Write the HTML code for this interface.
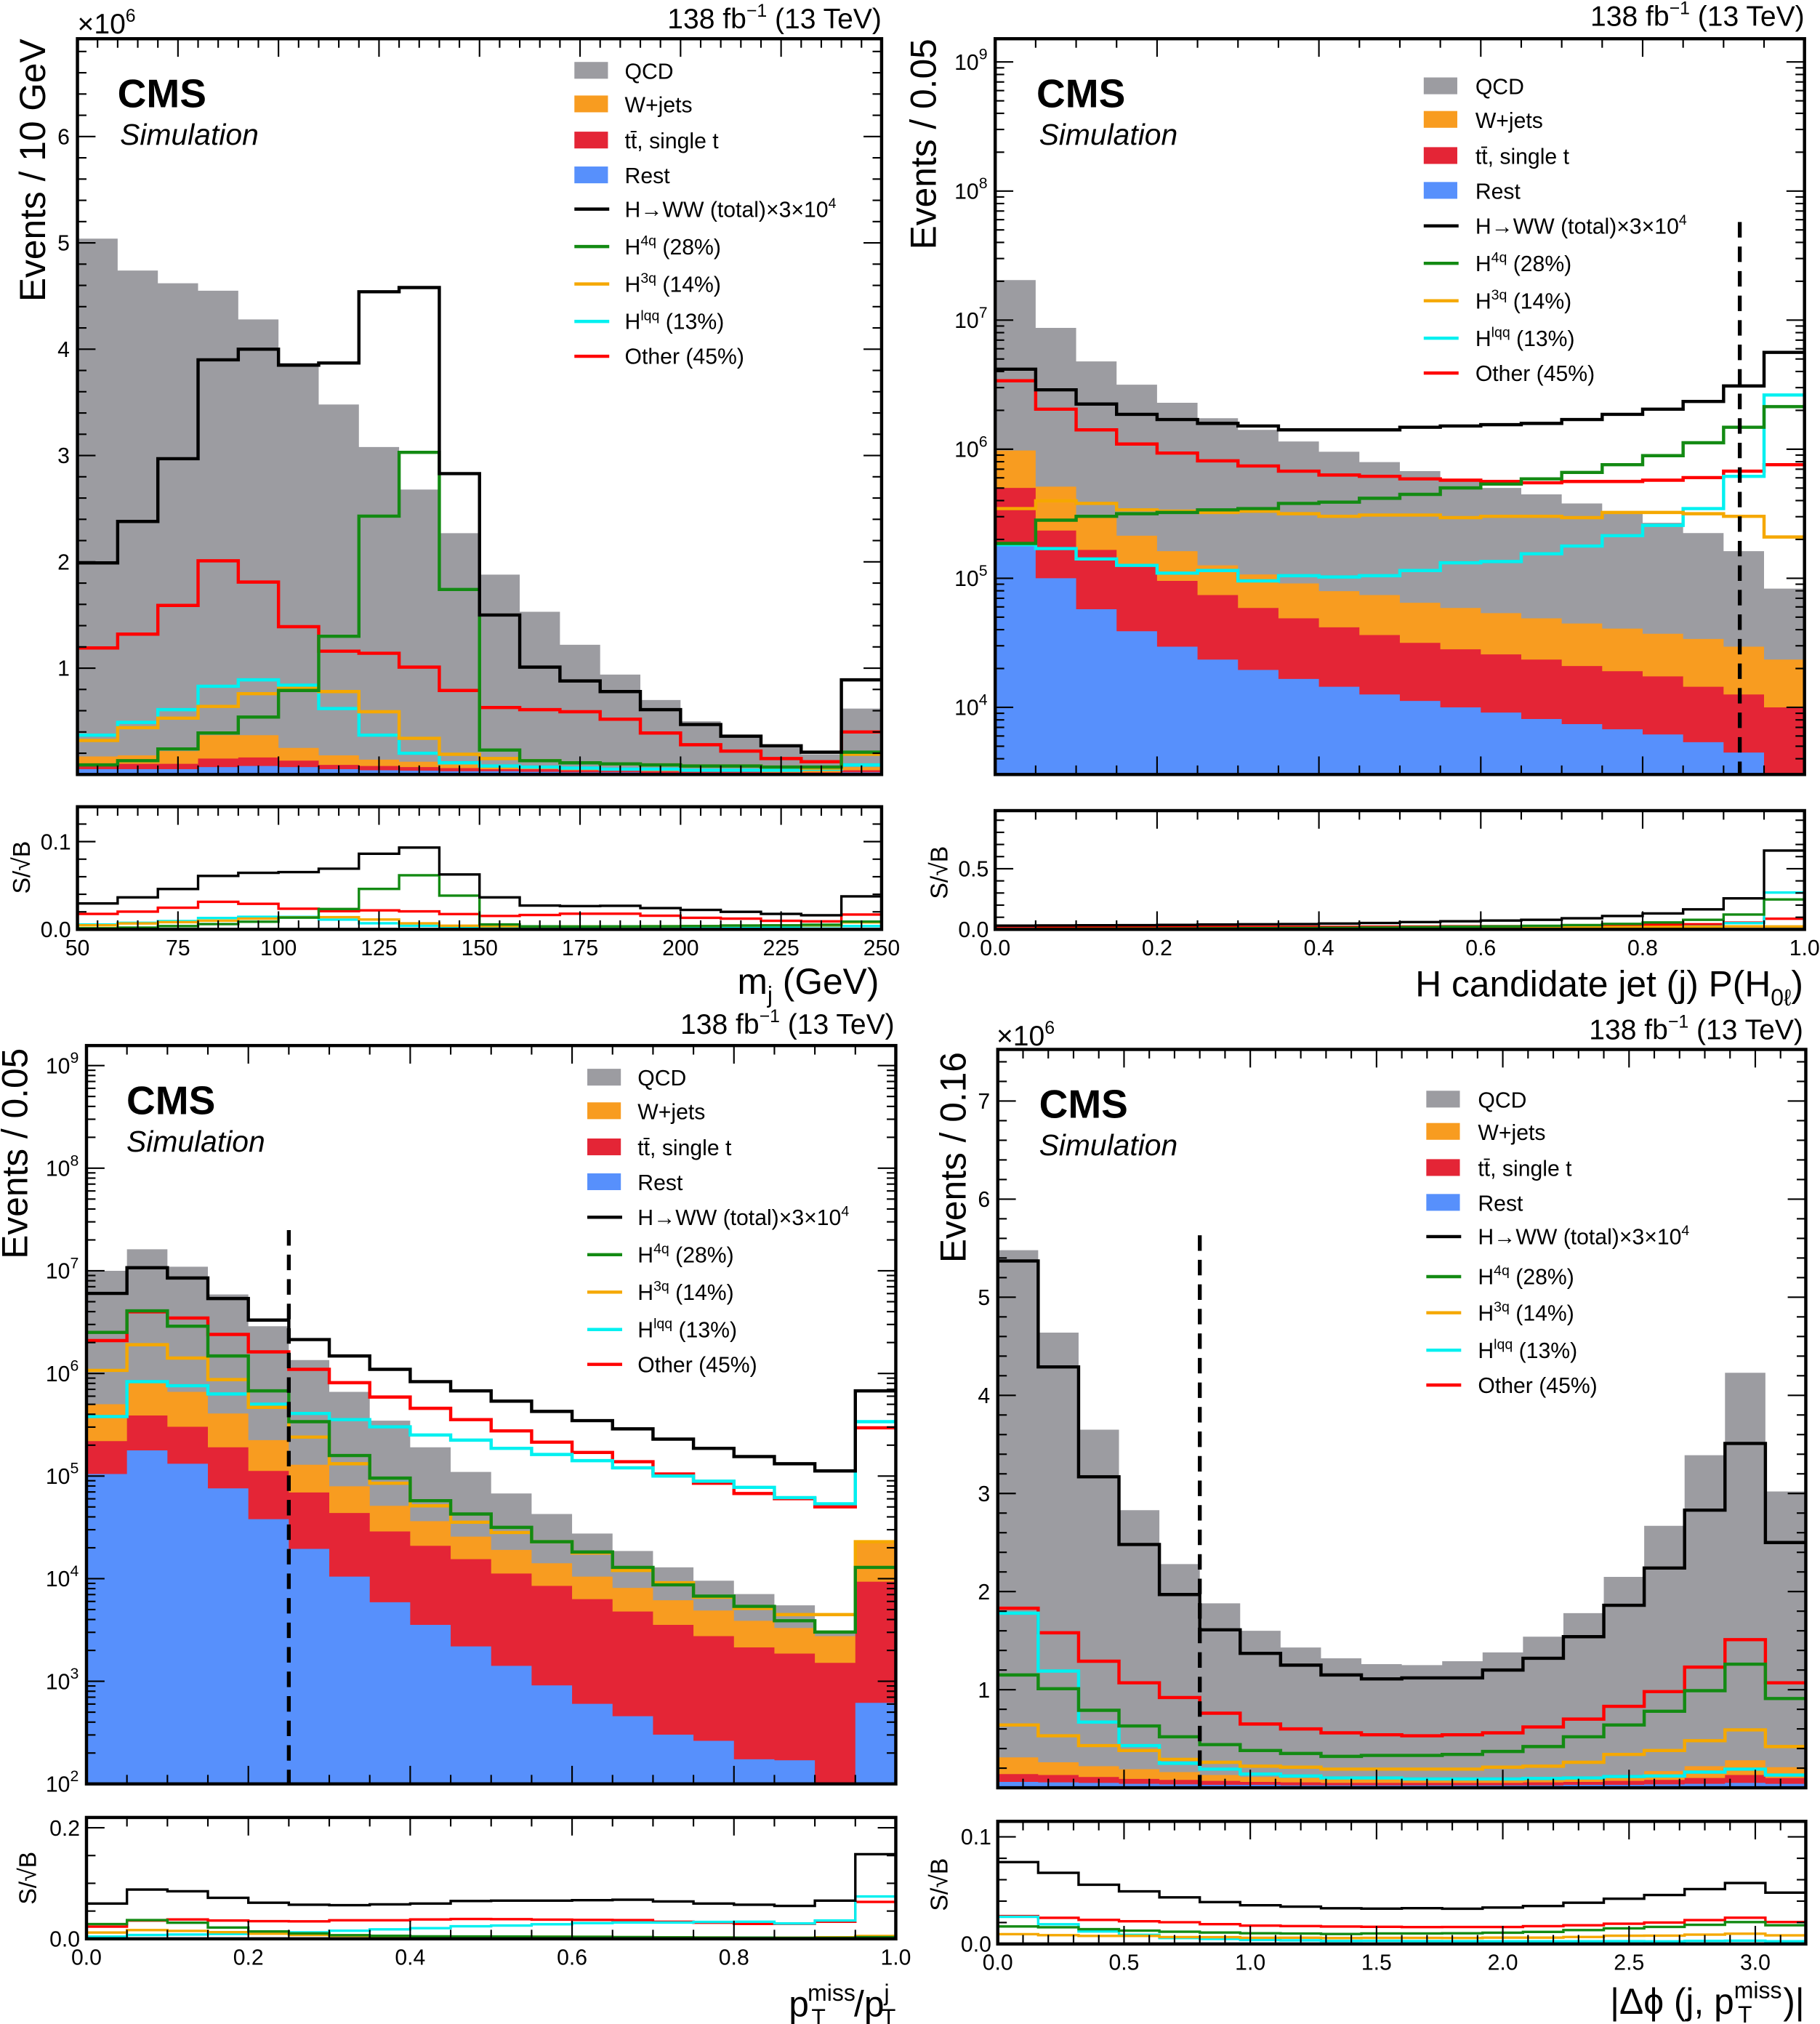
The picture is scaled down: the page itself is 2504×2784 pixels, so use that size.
<!DOCTYPE html>
<html><head><meta charset="utf-8"><style>
html,body{margin:0;padding:0;background:#fff;}
svg{display:block;font-family:"Liberation Sans",Arial,sans-serif;}
</style></head><body>
<svg id="chart" width="2504" height="2784" viewBox="0 0 1410 1568" preserveAspectRatio="none" xmlns="http://www.w3.org/2000/svg"></svg>
<script>
// ===== Panel 1: m_j (linear, units of 1e6) =====
const p1Edges = [50, 250];
const p1Total = [5.04,4.74,4.62,4.55,4.28,3.87,3.48,3.08,2.68,2.27,1.88,1.53,1.22,0.94,0.70,0.50,0.36,0.26,0.19,0.62];
const p1WjCum = [0.17,0.18,0.22,0.37,0.37,0.25,0.18,0.14,0.12,0.1,0.09,0.08,0.07,0.06,0.05,0.05,0.04,0.04,0.04,0.07];
const p1TtCum = [0.10,0.10,0.10,0.15,0.16,0.13,0.09,0.08,0.07,0.06,0.05,0.05,0.04,0.04,0.03,0.03,0.03,0.02,0.02,0.04];
const p1Rest = [0.05,0.05,0.05,0.07,0.08,0.07,0.05,0.04,0.035,0.03,0.03,0.025,0.02,0.02,0.015,0.015,0.01,0.01,0.01,0.02];
const p1HWW = [1.99,2.38,2.97,3.9,4.0,3.85,3.87,4.54,4.58,2.83,1.5,1.01,0.88,0.78,0.61,0.47,0.36,0.27,0.21,0.89];
const p1H4q = [0.09,0.13,0.24,0.39,0.54,0.79,1.30,2.43,3.03,1.74,0.23,0.13,0.11,0.10,0.09,0.08,0.08,0.07,0.07,0.21];
const p1H3q = [0.32,0.44,0.53,0.64,0.76,0.81,0.78,0.59,0.34,0.19,0.15,0.13,0.11,0.10,0.09,0.08,0.08,0.07,0.06,0.19];
const p1Hlqq = [0.37,0.49,0.61,0.83,0.89,0.84,0.62,0.37,0.20,0.11,0.08,0.07,0.06,0.05,0.05,0.04,0.04,0.04,0.05,0.09];
const p1Other = [1.19,1.32,1.59,2.01,1.81,1.39,1.16,1.14,1.01,0.79,0.63,0.61,0.59,0.52,0.39,0.28,0.22,0.15,0.12,0.40];
const p1XTicks = [50,75,100,125,150,175,200,225,250];
const p1YTicks = [1,2,3,4,5,6];
const p1RTicks = [0.0,0.1];

// ===== Panel 2: P(H0l) (log10 of events) =====
const p2Edges = [0, 1];
const p2Total = [7.31,6.94,6.68,6.50,6.36,6.24,6.15,6.06,5.98,5.90,5.83,5.75,5.70,5.65,5.58,5.50,5.43,5.35,5.21,4.92];
const p2WjCum = [5.99,5.71,5.47,5.33,5.21,5.10,5.03,4.96,4.90,4.87,4.81,4.77,4.73,4.69,4.65,4.61,4.57,4.53,4.47,4.37];
const p2TtCum = [5.70,5.37,5.22,5.10,4.98,4.87,4.77,4.69,4.62,4.56,4.50,4.45,4.41,4.37,4.32,4.28,4.24,4.16,4.10,4.00];
const p2Rest = [5.26,5.00,4.76,4.59,4.47,4.37,4.29,4.22,4.16,4.10,4.05,4.00,3.96,3.91,3.87,3.83,3.79,3.73,3.65,3.0];
const p2HWW = [6.62,6.46,6.35,6.27,6.23,6.20,6.18,6.15,6.15,6.15,6.17,6.18,6.19,6.20,6.23,6.27,6.31,6.37,6.49,6.75];
const p2H4q = [5.27,5.45,5.48,5.50,5.51,5.53,5.54,5.58,5.59,5.62,5.65,5.70,5.73,5.77,5.82,5.88,5.95,6.05,6.17,6.33];
const p2H3q = [5.54,5.60,5.58,5.53,5.52,5.51,5.52,5.50,5.48,5.49,5.49,5.47,5.48,5.48,5.47,5.51,5.51,5.50,5.48,5.32];
const p2Hlqq = [5.26,5.23,5.15,5.10,5.04,5.06,4.98,5.02,5.01,5.02,5.06,5.12,5.13,5.19,5.25,5.33,5.41,5.54,5.79,6.42];
const p2Other = [6.53,6.31,6.15,6.04,5.97,5.91,5.87,5.83,5.80,5.79,5.77,5.76,5.75,5.74,5.75,5.75,5.76,5.78,5.83,5.88];
const p2XTicks = [0,0.2,0.4,0.6,0.8,1.0];
const p2YTicks = [4,5,6,7,8,9];
const p2RTicks = [0.0,0.5];
const p2Cut = [0.92];

// ===== Panel 3: pTmiss/pTj (log10) =====
const p3Edges = [0, 1];
const p3Total = [7.00,7.21,7.04,6.77,6.46,6.13,5.82,5.54,5.28,5.04,4.83,4.63,4.44,4.27,4.11,3.98,3.85,3.74,3.47,4.34];
const p3WjCum = [5.70,5.93,5.82,5.61,5.35,5.11,4.90,4.71,4.56,4.41,4.28,4.15,4.02,3.91,3.79,3.69,3.59,3.52,3.44,4.36];
const p3TtCum = [5.34,5.59,5.48,5.28,5.05,4.84,4.64,4.46,4.32,4.19,4.05,3.93,3.80,3.68,3.55,3.44,3.33,3.27,3.18,3.97];
const p3Rest = [5.02,5.25,5.12,4.88,4.58,4.29,4.02,3.77,3.55,3.34,3.15,2.96,2.78,2.66,2.48,2.42,2.24,2.23,1.5,2.79];
const p3HWW = [6.78,7.03,6.93,6.73,6.52,6.33,6.17,6.04,5.92,5.83,5.73,5.63,5.54,5.46,5.36,5.27,5.19,5.12,5.05,5.83];
const p3H4q = [6.40,6.61,6.46,6.17,5.83,5.53,5.20,4.98,4.76,4.63,4.50,4.36,4.26,4.11,3.94,3.83,3.73,3.59,3.48,4.11];
const p3H3q = [6.03,6.28,6.15,5.94,5.67,5.38,5.12,4.93,4.71,4.55,4.45,4.36,4.25,4.08,3.96,3.82,3.71,3.65,3.65,4.36];
const p3Hlqq = [5.58,5.92,5.88,5.80,5.70,5.61,5.55,5.48,5.40,5.35,5.27,5.21,5.15,5.08,5.00,4.95,4.89,4.79,4.73,5.53];
const p3Other = [6.32,6.60,6.54,6.38,6.21,6.04,5.91,5.77,5.66,5.55,5.44,5.33,5.23,5.14,5.02,4.93,4.83,4.78,4.70,5.47];
const p3XTicks = [0,0.2,0.4,0.6,0.8,1.0];
const p3YTicks = [2,3,4,5,6,7,8,9];
const p3RTicks = [0.0,0.2];
const p3Cut = [0.25];

// ===== Panel 4: |dphi| (linear, 1e6) =====
const p4Edges = [0, 3.2];
const p4Total = [5.48,4.64,3.65,2.83,2.28,1.88,1.60,1.43,1.32,1.26,1.25,1.29,1.38,1.54,1.78,2.15,2.67,3.39,4.23,3.02];
const p4WjCum = [0.31,0.26,0.22,0.19,0.16,0.13,0.11,0.10,0.09,0.09,0.09,0.09,0.10,0.10,0.11,0.13,0.17,0.22,0.28,0.21];
const p4TtCum = [0.14,0.13,0.11,0.09,0.08,0.07,0.06,0.055,0.05,0.05,0.05,0.05,0.05,0.055,0.06,0.07,0.08,0.10,0.13,0.10];
const p4Rest = [0.06,0.055,0.05,0.04,0.035,0.03,0.03,0.025,0.025,0.025,0.025,0.025,0.025,0.025,0.03,0.03,0.035,0.04,0.05,0.04];
const p4HWW = [5.37,4.29,3.17,2.48,1.97,1.61,1.37,1.25,1.15,1.11,1.12,1.12,1.20,1.32,1.54,1.86,2.24,2.83,3.51,2.50];
const p4H4q = [1.15,1.01,0.79,0.63,0.52,0.44,0.38,0.35,0.32,0.33,0.33,0.34,0.37,0.42,0.52,0.64,0.78,0.99,1.26,0.91];
const p4H3q = [0.64,0.53,0.43,0.38,0.29,0.26,0.22,0.21,0.19,0.19,0.19,0.19,0.21,0.22,0.26,0.34,0.38,0.48,0.59,0.42];
const p4Hlqq = [1.78,1.19,0.67,0.43,0.25,0.19,0.14,0.12,0.10,0.10,0.09,0.09,0.09,0.095,0.10,0.115,0.12,0.16,0.19,0.13];
const p4Other = [1.83,1.58,1.29,1.07,0.92,0.76,0.65,0.60,0.56,0.54,0.53,0.54,0.56,0.62,0.70,0.83,0.98,1.23,1.51,1.07];
const p4XTicks = [0,0.5,1.0,1.5,2.0,2.5,3.0];
const p4YTicks = [1,2,3,4,5,6,7];
const p4RTicks = [0.0,0.1];
const p4Cut = [0.8];

const signalScale = 3e4;
const C = {qcd:'#9c9ca1', wj:'#f89c20', tt:'#e42536', rest:'#5790fc', hww:'#000', h4q:'#138a13', h3q:'#f5a800', hlqq:'#00f0f0', other:'#ff0000'};

const NS='http://www.w3.org/2000/svg';
const svg=document.getElementById('chart');
function mk(tag, attrs, parent){const e=document.createElementNS(NS,tag);for(const k in attrs)e.setAttribute(k,attrs[k]);(parent||svg).appendChild(e);return e;}
let clipId=0;

function panel(c){
  const g=mk('g',{});
  
  
  const nb=c.total.length, xmin=c.edges[0], xmax=c.edges[1], bw=(xmax-xmin)/nb;
  const lin = c.log ? (v=>Math.pow(10,v)) : (v=>v*1e6);
  const X=v=>c.x0+(v-xmin)/(xmax-xmin)*(c.x1-c.x0);
  const Y=c.log ? (l=>Math.min(c.y1+3, c.y1-(l-c.ymin)/(c.ymax-c.ymin)*(c.y1-c.y0)))
                : (v=>Math.max(c.y0, c.y1-(v-c.ymin)/(c.ymax-c.ymin)*(c.y1-c.y0)));
  const RY=v=>Math.max(c.ry0, c.ry1-(v/c.rmax)*(c.ry1-c.ry0));
  const cid='clip'+(clipId++);
  const cp=mk('clipPath',{id:cid},g); mk('rect',{x:c.x0,y:c.y0,width:c.x1-c.x0,height:c.y1-c.y0},cp);
  const rid='clip'+(clipId++);
  const rp=mk('clipPath',{id:rid},g); mk('rect',{x:c.x0,y:c.ry0,width:c.x1-c.x0,height:c.ry1-c.ry0},rp);
  const plot=mk('g',{'clip-path':`url(#${cid})`},g);
  const stacks=[[c.total,C.qcd,'qcd-stack'],[c.wj,C.wj,'wjets-stack'],[c.tt,C.tt,'ttbar-stack'],[c.rest,C.rest,'rest-stack']];
  stacks.forEach(s=>{
    let d=`M${X(xmin)},${c.y1+3}`;
    s[0].forEach((v,i)=>{d+=`V${Y(v)}H${X(xmin+(i+1)*bw)}`;});
    d+=`V${c.y1+3}Z`;
    const p=mk('path',{d:d,fill:s[1],stroke:'none'},plot);
    
    
  });
  const lines=[[c.other,C.other,'other-line'],[c.hlqq,C.hlqq,'hlqq-line'],[c.h3q,C.h3q,'h3q-line'],[c.h4q,C.h4q,'h4q-line'],[c.hww,C.hww,'hww-total-line']];
  function stepPath(vals,fy){let d='';vals.forEach((v,i)=>{const y=fy(v);d+=(i==0?`M${X(xmin)},${y}`:`V${y}`)+`H${X(xmin+(i+1)*bw)}`;});return d;}
  lines.forEach(s=>{
    const p=mk('path',{d:stepPath(s[0],Y),fill:'none',stroke:s[1],'stroke-width':2.5},plot);
    
    
  });
  if(c.cut){c.cut.forEach(v=>{
    const l=mk('line',{x1:X(v),x2:X(v),y1:c.cutTop,y2:c.y1,stroke:'#000','stroke-width':3,'stroke-dasharray':'12,7'},g);
    
    
  });}
  const rplot=mk('g',{'clip-path':`url(#${rid})`},g);
  const B=c.total.map(lin);
  lines.forEach(s=>{
    const r=s[0].map((v,i)=>(lin(v)/signalScale)/Math.sqrt(B[i]));
    const p=mk('path',{d:stepPath(r,RY),fill:'none',stroke:s[1],'stroke-width':1.9},rplot);
    
    
  });
  [[c.y0,c.y1],[c.ry0,c.ry1]].forEach((f,k)=>{
    const r=mk('rect',{x:c.x0,y:f[0],width:c.x1-c.x0,height:f[1]-f[0],fill:'none',stroke:'#000','stroke-width':2.5},g);
    
    
  });
  const tg=mk('g',{stroke:'#000','stroke-width':1.2},g);
  const xt=c.xTicks, xstep=xt[1]-xt[0], nmin=c.xMinor;
  for(let k=0;k<xt.length;k++){
    for(let m=0;m<nmin;m++){
      const v=xt[k]+m*xstep/nmin; if(v>xmax+1e-9)continue;
      const L=m==0?14:7, x=X(v);
      [[c.y0,c.y1],[c.ry0,c.ry1]].forEach(f=>{
        mk('line',{x1:x,x2:x,y1:f[1],y2:f[1]-L},tg); mk('line',{x1:x,x2:x,y1:f[0],y2:f[0]+L},tg);
      });
    }
  }
  function yt(vals,fy,top,bot){
    vals.forEach(v=>{const y=fy(v); if(y<top-0.5||y>bot+0.5)return; const L=v.maj?14:7;
      mk('line',{x1:c.x0,x2:c.x0+L,y1:y,y2:y},tg); mk('line',{x1:c.x1,x2:c.x1-L,y1:y,y2:y},tg);});
  }
  const ymaj=[],ymin=[];
  if(c.log){
    for(let e=Math.floor(c.ymin);e<=Math.ceil(c.ymax);e++){ymaj.push(e);for(let k=2;k<10;k++)ymin.push(e+Math.log10(k));}
    const Yt=l=>c.y1-(l-c.ymin)/(c.ymax-c.ymin)*(c.y1-c.y0);
    yt(ymaj.map(v=>({v,maj:1})),o=>Yt(o.v),c.y0,c.y1); yt(ymin.map(v=>({v,maj:0})),o=>Yt(o.v),c.y0,c.y1);
  } else {
    const Yt=v=>c.y1-(v-c.ymin)/(c.ymax-c.ymin)*(c.y1-c.y0);
    for(let v=0;v<=c.ymax+1e-9;v+=0.2){const maj=Math.abs(v-Math.round(v))<1e-6; yt([{v,maj}],o=>Yt(o.v),c.y0,c.y1);}
  }
  const RYt=v=>c.ry1-(v/c.rmax)*(c.ry1-c.ry0);
  for(let v=0;v<=c.rmax+1e-9;v+=c.rMinor){const maj=Math.abs((v/c.rTicks[1])-Math.round(v/c.rTicks[1]))<1e-6; yt([{v,maj}],o=>RYt(o.v),c.ry0,c.ry1);}
  const lab=mk('g',{'font-size':17,fill:'#000'},g);
  c.yTicks.forEach(v=>{
    const y=c.y1-(v-c.ymin)/(c.ymax-c.ymin)*(c.y1-c.y0);
    const t=mk('text',{x:c.x0-6,y:y+6,'text-anchor':'end'},lab);
    
    
    if(c.log){t.innerHTML=`10<tspan dy="-8" font-size="12">${v}</tspan>`;} else t.textContent=String(v);
  });
  c.rTicks.forEach(v=>{
    const t=mk('text',{x:c.x0-5,y:RYt(v)+6,'text-anchor':'end'},lab);
    
    
    t.textContent=v.toFixed(1);
  });
  xt.forEach(v=>{
    const t=mk('text',{x:X(v),y:c.ry1+20,'text-anchor':'middle'},lab);
    
    
    t.textContent=c.xFmt(v);
  });
  return g;
}

function txt(x,y,html,attrs,name){
  const t=mk('text',Object.assign({x:x,y:y},attrs||{}));
  
  
  t.innerHTML=html; return t;
}
function legend(bx,tx,ys){
  const items=[['box',C.qcd,'QCD'],['box',C.wj,'W+jets'],['box',C.tt,'tt̄, single t'],['box',C.rest,'Rest'],
   ['line',C.hww,'H→WW (total)×3×10<tspan dy="-7" font-size="11">4</tspan>'],
   ['line',C.h4q,'H<tspan dy="-7" font-size="11">4q</tspan><tspan dy="7"> (28%)</tspan>'],
   ['line',C.h3q,'H<tspan dy="-7" font-size="11">3q</tspan><tspan dy="7"> (14%)</tspan>'],
   ['line',C.hlqq,'H<tspan dy="-7" font-size="11">lqq</tspan><tspan dy="7"> (13%)</tspan>'],
   ['line',C.other,'Other (45%)']];
  const g=mk('g',{});
  
  
  items.forEach((it,i)=>{
    const y=ys[i];
    let m;
    if(it[0]=='box') m=mk('rect',{x:bx,y:y-7,width:26,height:13,fill:it[1]},g);
    else m=mk('line',{x1:bx,x2:bx+27,y1:y,y2:y,stroke:it[1],'stroke-width':2.5},g);
    
    
    const t=mk('text',{x:tx,y:y+6,'font-size':17},g);
    
    
    t.innerHTML=it[2];
  });
}

panel({name:'panel-mj',x0:60,x1:683,y0:30,y1:600,ry0:625,ry1:720,edges:p1Edges,log:false,ymin:0,ymax:6.92,rmax:0.1397,rMinor:0.02,
 total:p1Total,wj:p1WjCum,tt:p1TtCum,rest:p1Rest,hww:p1HWW,h4q:p1H4q,h3q:p1H3q,hlqq:p1Hlqq,other:p1Other,
 xTicks:p1XTicks,xMinor:5,yTicks:p1YTicks,rTicks:p1RTicks,xFmt:v=>String(v)});
panel({name:'panel-pH0l',x0:771,x1:1398,y0:30,y1:600,ry0:628,ry1:720,edges:p2Edges,log:true,ymin:3.48,ymax:9.18,rmax:0.979,rMinor:0.1,
 total:p2Total,wj:p2WjCum,tt:p2TtCum,rest:p2Rest,hww:p2HWW,h4q:p2H4q,h3q:p2H3q,hlqq:p2Hlqq,other:p2Other,
 xTicks:p2XTicks,xMinor:4,yTicks:p2YTicks,rTicks:p2RTicks,xFmt:v=>v.toFixed(1),cut:p2Cut,cutTop:172});
panel({name:'panel-ptratio',x0:67,x1:694,y0:810,y1:1382,ry0:1408,ry1:1502,edges:p3Edges,log:true,ymin:2.0,ymax:9.195,rmax:0.2186,rMinor:0.05,
 total:p3Total,wj:p3WjCum,tt:p3TtCum,rest:p3Rest,hww:p3HWW,h4q:p3H4q,h3q:p3H3q,hlqq:p3Hlqq,other:p3Other,
 xTicks:p3XTicks,xMinor:4,yTicks:p3YTicks,rTicks:p3RTicks,xFmt:v=>v.toFixed(1),cut:p3Cut,cutTop:953});
panel({name:'panel-dphi',x0:773,x1:1399,y0:813,y1:1385,ry0:1411,ry1:1506,edges:p4Edges,log:false,ymin:0,ymax:7.526,rmax:0.1145,rMinor:0.02,
 total:p4Total,wj:p4WjCum,tt:p4TtCum,rest:p4Rest,hww:p4HWW,h4q:p4H4q,h3q:p4H3q,hlqq:p4Hlqq,other:p4Other,
 xTicks:p4XTicks,xMinor:5,yTicks:p4YTicks,rTicks:p4RTicks,xFmt:v=>v.toFixed(1),cut:p4Cut,cutTop:957});

const lumi='138 fb<tspan dy="-9" font-size="14">−1</tspan><tspan dy="9"> (13 TeV)</tspan>';
txt(683,22,lumi,{'text-anchor':'end','font-size':22},'lumi-label');
txt(1398,20,lumi,{'text-anchor':'end','font-size':22},'lumi-label');
txt(693,801,lumi,{'text-anchor':'end','font-size':22},'lumi-label');
txt(1397,805,lumi,{'text-anchor':'end','font-size':22},'lumi-label');
const ex='×10<tspan dy="-9" font-size="14">6</tspan>';
txt(60,26,ex,{'font-size':22},'y-exponent-label');
txt(772,810,ex,{'font-size':22},'y-exponent-label');
[[91,83,93,112],[803,83,805,112],[98,863,98,892],[805,866,805,895]].forEach(p=>{
  txt(p[0],p[1],'CMS',{'font-size':31,'font-weight':'bold'},'cms-label');
  txt(p[2],p[3],'Simulation',{'font-size':23,'font-style':'italic'},'simulation-label');
});
legend(445,484,[55,81,109,136,162,191,220,249,276]);
legend(1103,1143,[67,93,121,148,175,204,233,262,289]);
legend(455,494,[835,861,889,916,943,972,1001,1030,1057]);
legend(1105,1145,[852,877,905,932,958,989,1017,1046,1073]);
txt(0,0,'Events / 10 GeV',{'font-size':28,'text-anchor':'end',transform:'translate(35,30) rotate(-90)'},'y-axis-title');
txt(0,0,'Events / 0.05',{'font-size':28,'text-anchor':'end',transform:'translate(725,30) rotate(-90)'},'y-axis-title');
txt(0,0,'Events / 0.05',{'font-size':28,'text-anchor':'end',transform:'translate(21,812) rotate(-90)'},'y-axis-title');
txt(0,0,'Events / 0.16',{'font-size':28,'text-anchor':'end',transform:'translate(748,815) rotate(-90)'},'y-axis-title');
[[23,672],[734,676],[28,1455],[734,1460]].forEach(p=>{
  txt(0,0,'S/√B',{'font-size':19,'text-anchor':'middle',transform:`translate(${p[0]},${p[1]}) rotate(-90)`},'ratio-y-axis-title');
});
txt(681,770,'m<tspan dy="7" font-size="18">j</tspan><tspan dy="-7"> (GeV)</tspan>',{'font-size':28,'text-anchor':'end'},'x-axis-title');
txt(1397,772,'H candidate jet (j) P(H<tspan dy="7" font-size="18">0ℓ</tspan><tspan dy="-7">)</tspan>',{'font-size':28,'text-anchor':'end'},'x-axis-title');
txt(694,1562,'p<tspan dx="-1" dy="-12" font-size="18">miss</tspan><tspan dx="-34" dy="19" font-size="18">T</tspan><tspan dx="22" dy="-7">/p</tspan><tspan dy="-12" font-size="18">j</tspan><tspan dx="-6" dy="19" font-size="18">T</tspan>',{'font-size':28,'text-anchor':'end'},'x-axis-title');
txt(1398,1560,'|Δϕ (j, p<tspan dy="-12" font-size="18">miss</tspan><tspan dx="-34" dy="19" font-size="18">T</tspan><tspan dx="24" dy="-7">)|</tspan>',{'font-size':28,'text-anchor':'end'},'x-axis-title');
</script>
</body></html>
